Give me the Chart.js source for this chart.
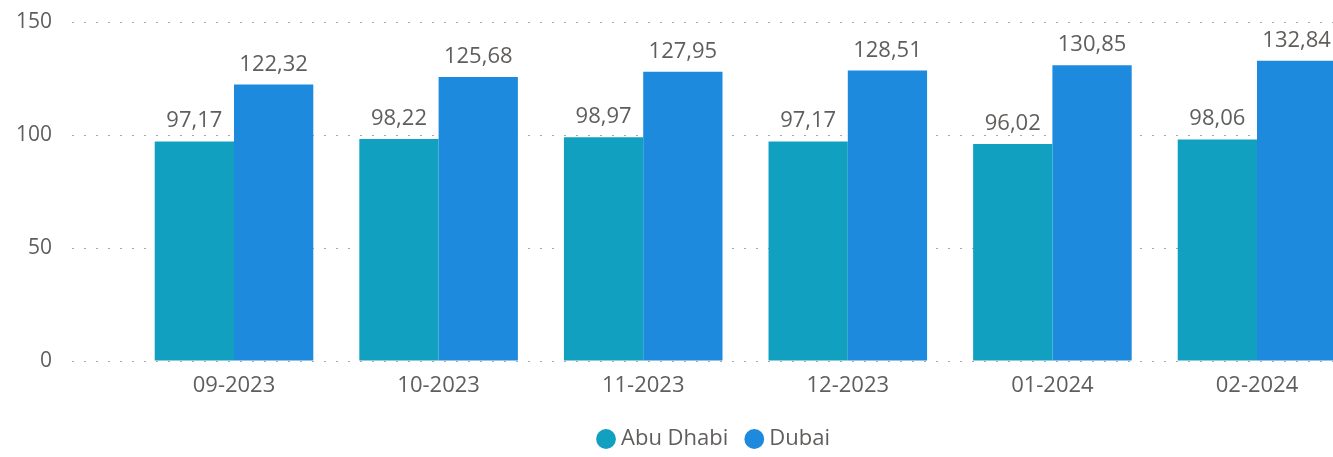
<!DOCTYPE html>
<html>
<head>
<meta charset="utf-8">
<script src="https://cdn.jsdelivr.net/npm/chart.js@4.4.1/dist/chart.umd.min.js"></script>
<style>
  html, body { margin: 0; padding: 0; background: #ffffff; overflow: hidden; width: 1333px; height: 457px; }
  #wrap { position: relative; width: 1360px; height: 460px; }
</style>
</head>
<body>
<div id="wrap"><canvas id="c"></canvas></div>
<script>
const categories = ['09-2023', '10-2023', '11-2023', '12-2023', '01-2024', '02-2024'];
const abuDhabi = [97.17, 98.22, 98.97, 97.17, 96.02, 98.06];
const dubai = [122.32, 125.68, 127.95, 128.51, 130.85, 132.84];
const seriesNames = ['Abu Dhabi', 'Dubai'];
const yTicks = [0, 50, 100, 150];

const FONT = '"Open Sans", "Noto Sans", sans-serif';
const TEXT = '#605E5C';

const valueLabels = {
  id: 'valueLabels',
  afterDatasetsDraw(chart) {
    const ctx = chart.ctx;
    ctx.save();
    ctx.font = '22px ' + FONT;
    ctx.fillStyle = TEXT;
    ctx.textAlign = 'center';
    ctx.textBaseline = 'alphabetic';
    chart.data.datasets.forEach((ds, di) => {
      const meta = chart.getDatasetMeta(di);
      meta.data.forEach((el, i) => {
        const v = ds.data[i].y;
        ctx.fillText(v.toFixed(2).replace('.', ','), el.x, el.y - 14);
      });
    });
    ctx.restore();
  }
};

new Chart(document.getElementById('c'), {
  type: 'bar',
  data: {
    datasets: [
      {
        label: seriesNames[0],
        data: categories.map((c, i) => ({ x: i, y: abuDhabi[i] })),
        backgroundColor: '#12A0C0',
        borderWidth: 0
      },
      {
        label: seriesNames[1],
        data: categories.map((c, i) => ({ x: i, y: dubai[i] })),
        backgroundColor: '#1D8ADD',
        borderWidth: 0
      }
    ]
  },
  options: {
    responsive: true,
    maintainAspectRatio: false,
    animation: false,
    categoryPercentage: 0.775,
    barPercentage: 1.0,
    layout: { padding: { top: 22, right: 0, bottom: 0, left: 0 } },
    plugins: {
      legend: {
        display: true,
        position: 'bottom',
        fullSize: false,
        labels: {
          usePointStyle: true,
          pointStyle: 'circle',
          boxWidth: 8,
          boxHeight: 14,
          padding: 22,
          color: TEXT,
          font: { family: FONT, size: 22 }
        }
      },
      tooltip: { enabled: false }
    },
    scales: {
      x: {
        type: 'linear',
        min: -0.7918,
        max: 5.5034,
        offset: false,
        grid: { display: false, drawTicks: false },
        border: { display: false },
        afterBuildTicks: (s) => { s.ticks = categories.map((c, i) => ({ value: i })); },
        afterFit: (s) => { s.height = 45; },
        ticks: {
          autoSkip: false,
          maxRotation: 0,
          padding: 12,
          color: TEXT,
          font: { family: FONT, size: 22 },
          callback: (v) => categories[v]
        }
      },
      y: {
        min: 0,
        max: 150,
        afterBuildTicks: (s) => { s.ticks = yTicks.map(v => ({ value: v })); },
        afterFit: (s) => { s.width = 72; s.paddingTop = 0; s.paddingBottom = 0; },
        grid: { color: '#a8a8a8', lineWidth: 1, drawTicks: false },
        border: { display: false, dash: [2, 10] },
        ticks: {
          padding: 20,
          color: TEXT,
          font: { family: FONT, size: 21 }
        }
      }
    }
  },
  plugins: [valueLabels]
});
</script>
</body>
</html>
